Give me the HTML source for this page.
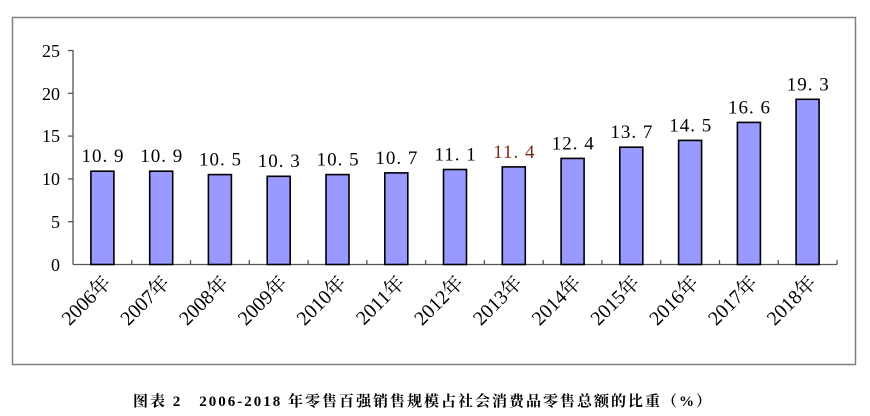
<!DOCTYPE html>
<html><head><meta charset="utf-8"><style>
html,body{margin:0;padding:0;background:#fff;width:870px;height:416px;overflow:hidden}
</style></head><body>
<svg width="870" height="416" xmlns="http://www.w3.org/2000/svg" font-family="'Liberation Serif','Noto Serif CJK SC',serif">
<rect x="12.5" y="17.5" width="843" height="347" fill="#fff" stroke="#808080" stroke-width="1.5"/>
<g stroke="#555" stroke-width="1.3">
<line x1="73" y1="50" x2="73" y2="264.5"/>
<line x1="73" y1="264.5" x2="837" y2="264.5"/>
<line x1="68" y1="50.5" x2="73" y2="50.5"/>
<line x1="68" y1="93.3" x2="73" y2="93.3"/>
<line x1="68" y1="136.1" x2="73" y2="136.1"/>
<line x1="68" y1="178.9" x2="73" y2="178.9"/>
<line x1="68" y1="221.7" x2="73" y2="221.7"/>
<line x1="131.8" y1="260" x2="131.8" y2="264.5"/><line x1="190.5" y1="260" x2="190.5" y2="264.5"/>
<line x1="249.3" y1="260" x2="249.3" y2="264.5"/><line x1="308.1" y1="260" x2="308.1" y2="264.5"/>
<line x1="366.9" y1="260" x2="366.9" y2="264.5"/><line x1="425.6" y1="260" x2="425.6" y2="264.5"/>
<line x1="484.4" y1="260" x2="484.4" y2="264.5"/><line x1="543.2" y1="260" x2="543.2" y2="264.5"/>
<line x1="601.9" y1="260" x2="601.9" y2="264.5"/><line x1="660.7" y1="260" x2="660.7" y2="264.5"/>
<line x1="719.5" y1="260" x2="719.5" y2="264.5"/><line x1="778.2" y1="260" x2="778.2" y2="264.5"/>
<line x1="837" y1="260" x2="837" y2="264.5"/>
</g>
<g font-size="18" fill="#000" text-anchor="end">
<text x="60" y="57">25</text><text x="60" y="100">20</text><text x="60" y="142">15</text>
<text x="60" y="185">10</text><text x="60" y="228">5</text><text x="60" y="271">0</text>
</g>
<g fill="#9999ff" stroke="#000" stroke-width="1.6">
<rect x="90.9" y="171.2" width="23" height="93.3"/>
<rect x="149.7" y="171.2" width="23" height="93.3"/>
<rect x="208.4" y="174.6" width="23" height="89.9"/>
<rect x="267.2" y="176.3" width="23" height="88.2"/>
<rect x="326" y="174.6" width="23" height="89.9"/>
<rect x="384.8" y="172.9" width="23" height="91.6"/>
<rect x="443.5" y="169.5" width="23" height="95"/>
<rect x="502.3" y="166.9" width="23" height="97.6"/>
<rect x="561.1" y="158.4" width="23" height="106.1"/>
<rect x="619.8" y="147.2" width="23" height="117.3"/>
<rect x="678.6" y="140.4" width="23" height="124.1"/>
<rect x="737.4" y="122.4" width="23" height="142.1"/>
<rect x="796.1" y="99.3" width="23" height="165.2"/>
</g>
<g font-size="19" fill="#000" text-anchor="middle" letter-spacing="1" xml:space="preserve">
<text x="103" y="162">10. 9</text>
<text x="161.8" y="162">10. 9</text>
<text x="220.5" y="165.5">10. 5</text>
<text x="279.3" y="167">10. 3</text>
<text x="338.1" y="165.5">10. 5</text>
<text x="396.9" y="164">10. 7</text>
<text x="455.6" y="160.5">11. 1</text>
<text x="514.4" y="158" fill="#7a2a10">11. 4</text>
<text x="573.2" y="149.5">12. 4</text>
<text x="631.9" y="138">13. 7</text>
<text x="690.7" y="131.5">14. 5</text>
<text x="749.5" y="113.5">16. 6</text>
<text x="808.2" y="90.5">19. 3</text>
</g>
<g font-size="20" fill="#000" text-anchor="end">
<text transform="translate(112,284) rotate(-45)">2006年</text>
<text transform="translate(170.8,284) rotate(-45)">2007年</text>
<text transform="translate(229.5,284) rotate(-45)">2008年</text>
<text transform="translate(288.3,284) rotate(-45)">2009年</text>
<text transform="translate(347.1,284) rotate(-45)">2010年</text>
<text transform="translate(405.9,284) rotate(-45)">2011年</text>
<text transform="translate(464.6,284) rotate(-45)">2012年</text>
<text transform="translate(523.4,284) rotate(-45)">2013年</text>
<text transform="translate(582.2,284) rotate(-45)">2014年</text>
<text transform="translate(640.9,284) rotate(-45)">2015年</text>
<text transform="translate(699.7,284) rotate(-45)">2016年</text>
<text transform="translate(758.5,284) rotate(-45)">2017年</text>
<text transform="translate(817.2,284) rotate(-45)">2018年</text>
</g>
<text x="423" y="406" text-anchor="middle" font-size="15" font-weight="bold" letter-spacing="2">图表 2　2006-2018 年零售百强销售规模占社会消费品零售总额的比重（%）</text>
</svg>
</body></html>
